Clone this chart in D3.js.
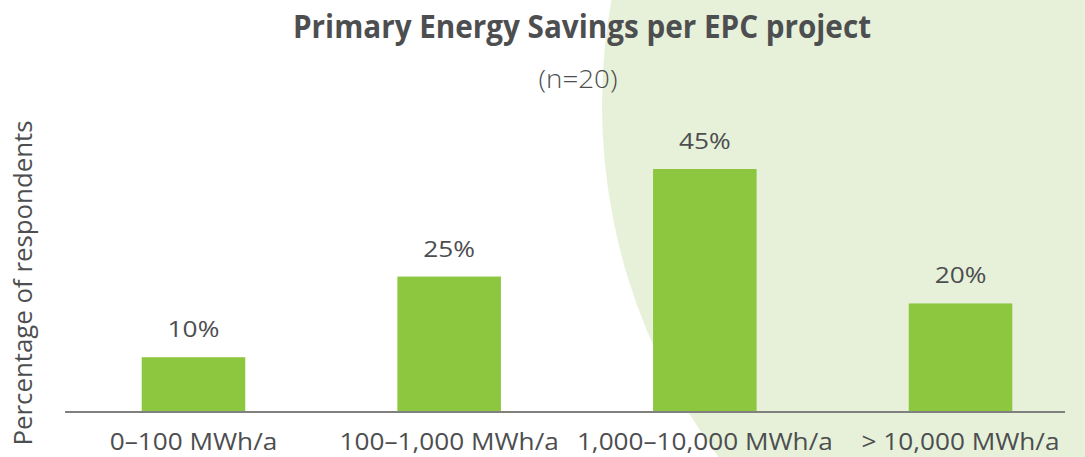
<!DOCTYPE html>
<html>
<head>
<meta charset="utf-8">
<script src="https://cdn.jsdelivr.net/npm/d3@7"></script>
<style>
  body { margin: 0; background: #fff; }
  text { font-family: "Open Sans", "Noto Sans", sans-serif; fill: #4d4e50; }
</style>
</head>
<body>
<div id="my_dataviz"></div>
<script>
const categories = ["0–100 MWh/a", "100–1,000 MWh/a", "1,000–10,000 MWh/a", "> 10,000 MWh/a"];
const values = [10, 25, 45, 20];
const title = "Primary Energy Savings per EPC project";
const subtitle = "(n=20)";
const yLabel = "Percentage of respondents";

const width = 1085, height = 457;
const baseY = 411;

// the original font is wider than Open Sans, so widen the glyphs a bit
const stretch = (sel, f) => sel.each(function () {
  const w = this.getComputedTextLength();
  d3.select(this).attr("textLength", w * f).attr("lengthAdjust", "spacingAndGlyphs");
});

const svg = d3.select("#my_dataviz").append("svg")
  .attr("width", width)
  .attr("height", height);

// background decoration
svg.append("circle")
  .attr("cx", 1192).attr("cy", 105).attr("r", 590)
  .attr("fill", "#e7f1da");

const x = d3.scaleBand()
  .domain(categories)
  .range([65, 1089])
  .paddingInner(0.595)
  .paddingOuter(0.3);

const y = d3.scaleLinear()
  .domain([0, 45])
  .range([baseY, 169]);

svg.selectAll("rect.bar")
  .data(values)
  .join("rect")
  .attr("class", "bar")
  .attr("x", (d, i) => x(categories[i]))
  .attr("y", d => y(d))
  .attr("width", x.bandwidth())
  .attr("height", d => baseY - y(d))
  .attr("fill", "#8dc63f");

svg.selectAll("text.val")
  .data(values)
  .join("text")
  .attr("class", "val")
  .attr("x", (d, i) => x(categories[i]) + x.bandwidth() / 2)
  .attr("y", d => y(d) - 20)
  .attr("text-anchor", "middle")
  .style("font-size", "21px")
  .text(d => d + "%")
  .call(stretch, 1.25);

// x axis
const xAxis = d3.axisBottom(x).tickSize(0).tickPadding(0);
const gx = svg.append("g")
  .attr("transform", `translate(0,${baseY + 1})`)
  .call(xAxis);
gx.select(".domain")
  .attr("d", "M65,0H1065")
  .attr("stroke", "#808080")
  .attr("stroke-width", 2);
gx.selectAll(".tick text")
  .style("font-size", "24px")
  .style("font-family", "'Open Sans', sans-serif")
  .attr("fill", "#4d4e50")
  .attr("y", 38)
  .attr("dy", null)
  .call(stretch, 1.09);

svg.append("text")
  .attr("x", 582).attr("y", 38)
  .attr("text-anchor", "middle")
  .style("font-size", "32px")
  .style("font-weight", "700")
  .text(title)
  .attr("textLength", 578)
  .attr("lengthAdjust", "spacingAndGlyphs");

svg.append("text")
  .attr("x", 578).attr("y", 88)
  .attr("text-anchor", "middle")
  .style("font-size", "25px")
  .style("font-weight", "300")
  .text(subtitle)
  .call(stretch, 1.11);

svg.append("text")
  .attr("transform", "translate(32,283) rotate(-90)")
  .attr("text-anchor", "middle")
  .style("font-size", "25px")
  .text(yLabel)
  .attr("textLength", 325)
  .attr("lengthAdjust", "spacingAndGlyphs");
</script>
</body>
</html>
